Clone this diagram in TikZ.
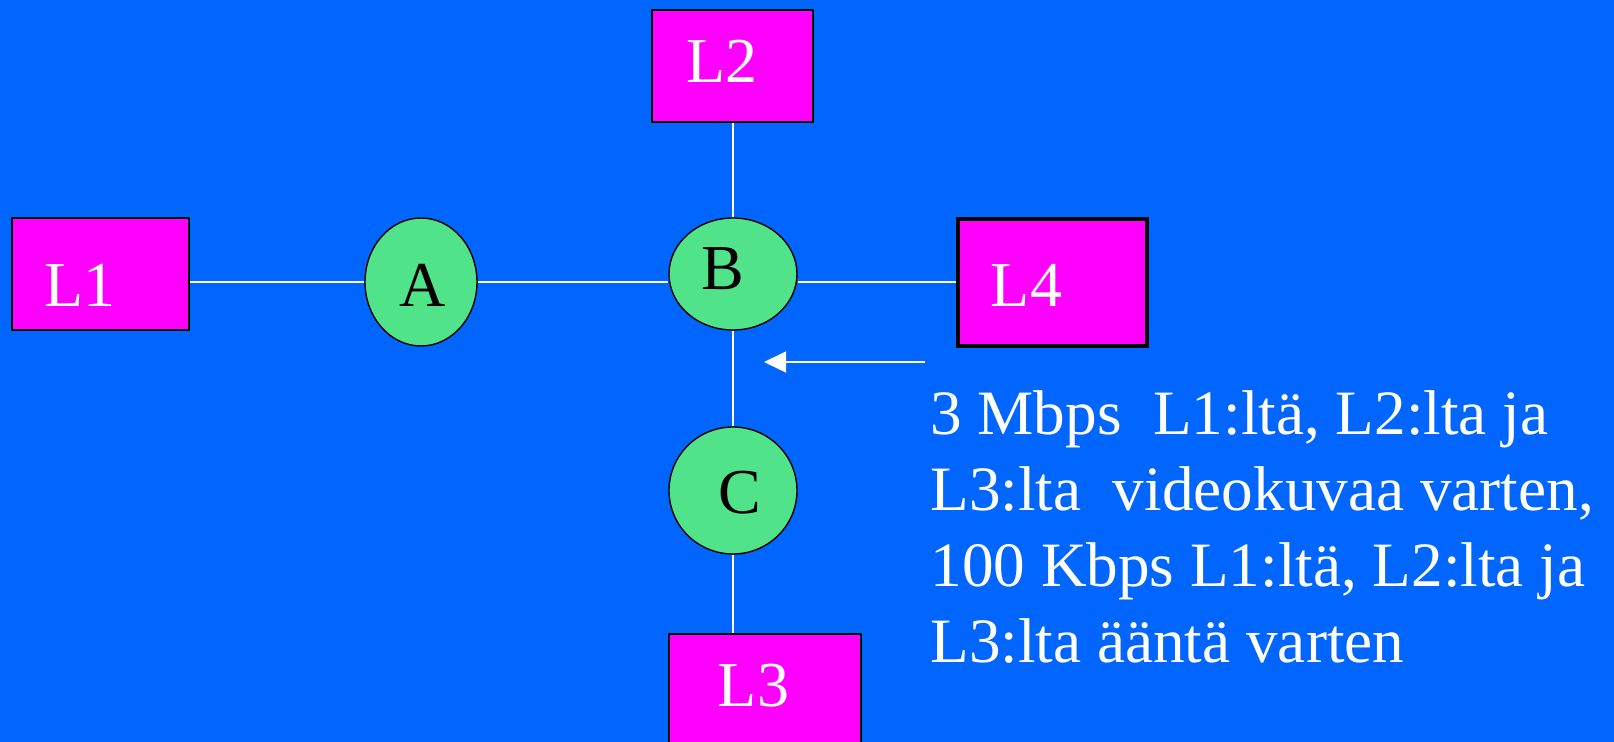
\documentclass[tikz,border=0pt]{standalone}
\usepackage{fontspec}
\setmainfont{Liberation Serif}
\usetikzlibrary{shapes.geometric,arrows.meta}
\definecolor{bg}{RGB}{0,102,255}
\definecolor{mag}{RGB}{255,0,255}
\definecolor{grn}{RGB}{80,227,138}
\begin{document}
\begin{tikzpicture}[x=0.5pt,y=-0.5pt,
  box/.style={draw=black,fill=mag,line width=0.7pt,inner sep=0pt},
  nodeell/.style={ellipse,draw=black,fill=grn,line width=0.7pt,inner sep=0pt},
  wlbl/.style={text=white,font=\fontsize{32pt}{38pt}\selectfont,inner sep=0pt,anchor=base},
  blbl/.style={text=black,font=\fontsize{32pt}{38pt}\selectfont,inner sep=0pt,anchor=base},
  link/.style={draw=white,line width=0.75pt},
  note/.style={text=white,font=\fontsize{31.6pt}{38pt}\selectfont,inner sep=0pt,align=left,anchor=base west}]
\fill[bg] (0,0) rectangle (1614,742);
\useasboundingbox (0,0) rectangle (1614,742);
% boxes
\node[box,minimum width=88.5pt,minimum height=56pt] (L1) at (100.5,274) {};
\node[box,minimum width=80.5pt,minimum height=56pt] (L2) at (732.5,66) {};
\node[box,line width=1.6pt,minimum width=94.5pt,minimum height=63.5pt] (L4) at (1052.5,282.5) {};
\node[box,minimum width=96pt,minimum height=56pt] (L3) at (765,690) {};
% routers
\node[nodeell,minimum width=56pt,minimum height=64pt] (A) at (421,282) {};
\node[nodeell,minimum width=64pt,minimum height=56pt] (B) at (733,274) {};
\node[nodeell,minimum width=64pt,minimum height=63.5pt] (C) at (733,490.5) {};
% labels
\node[wlbl] (tL1) at (80,307) {L1};
\node[wlbl] (tL2) at (722,83) {L2};
\node[wlbl] (tL4) at (1026.5,307) {L4};
\node[wlbl] (tL3) at (753.5,707) {L3};
\node[blbl] (tA) at (422.5,307) {A};
\node[blbl] (tB) at (723,290) {B};
\node[blbl] (tC) at (740,514) {C};
% links
\draw[link] (A.west) -- (A.west -| L1.east);
\draw[link] (A.east) -- (A.east -| B.west);
\draw[link] ([yshift=-4pt]B.east) -- ([yshift=-4pt]B.east -| L4.west);
\draw[link] (B.north) -- (B.north |- L2.south);
\draw[link] (B.south) -- (C.north);
\draw[link] (C.south) -- (C.south |- L3.north);
% arrow
\coordinate (aS) at (925,362);
\coordinate (aE) at (764,362);
\draw[link,-{Triangle[length=11pt,width=10.5pt]},fill=white] (aS) -- (aE);
% note (base anchor = baseline of last line)
\node[note] (txt) at (930,663) {3 Mbps\ \ L1:ltä, L2:lta ja\\L3:lta\ \ videokuvaa varten,\\100 Kbps L1:ltä, L2:lta ja\\L3:lta ääntä varten};
\end{tikzpicture}
\end{document}
